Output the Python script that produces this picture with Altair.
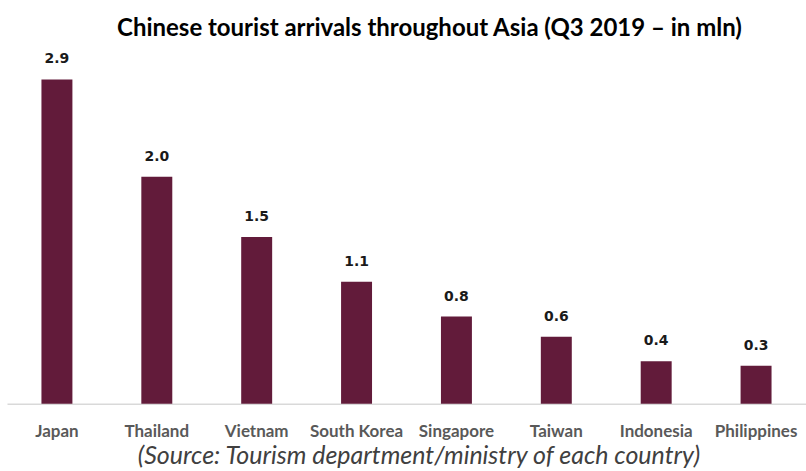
import altair as alt
import pandas as pd

countries = ["Japan", "Thailand", "Vietnam", "South Korea", "Singapore",
             "Taiwan", "Indonesia", "Philippines"]
arrivals = [2.9, 2.03, 1.49, 1.09, 0.78, 0.6, 0.38, 0.34]
labels = ["2.9", "2.0", "1.5", "1.1", "0.8", "0.6", "0.4", "0.3"]

df = pd.DataFrame({"country": countries, "value": arrivals, "label": labels})

x = alt.X("country:N", sort=countries,
          scale=alt.Scale(paddingInner=0.69, paddingOuter=0.345),
          axis=alt.Axis(title="(Source: Tourism department/ministry of each country)",
                        titleFont="Lato", titleFontSize=25, titleFontStyle="italic",
                        titleFontWeight="normal", titleColor="#404040",
                        titleX=412, titlePadding=4,
                        labelFont="Lato", labelFontSize=17, labelFontWeight="bold",
                        labelColor="#595959", labelAngle=0, labelPadding=20,
                        labelOverlap=False, labelLimit=0,
                        ticks=False, domainColor="#d9d9d9", domainWidth=1.5))
y = alt.Y("value:Q", scale=alt.Scale(domain=[0, 3.0], nice=False),
          axis=None)

bars = alt.Chart(df).mark_bar(color="#621b3a").encode(x=x, y=y)
text = alt.Chart(df).mark_text(font="DejaVu Sans", fontSize=14, fontWeight="bold",
                               color="#1a1a1a", baseline="alphabetic", dy=-16).encode(
    x=alt.X("country:N", sort=countries), y="value:Q", text="label:N")

chart = (bars + text).properties(
    width=800, height=336,
    autosize=alt.AutoSizeParams(type="none"),
    padding={"left": 7, "top": 68, "right": 0, "bottom": 67},
    background="white",
    title=alt.TitleParams("Chinese tourist arrivals throughout Asia (Q3 2019 – in mln)",
                          font="Lato", fontSize=24, fontWeight="bold", color="#000000",
                          anchor="middle", dx=23, offset=11),
).configure_view(stroke=None)

chart.save("out.html", embed_options={"renderer": "svg", "actions": False})
